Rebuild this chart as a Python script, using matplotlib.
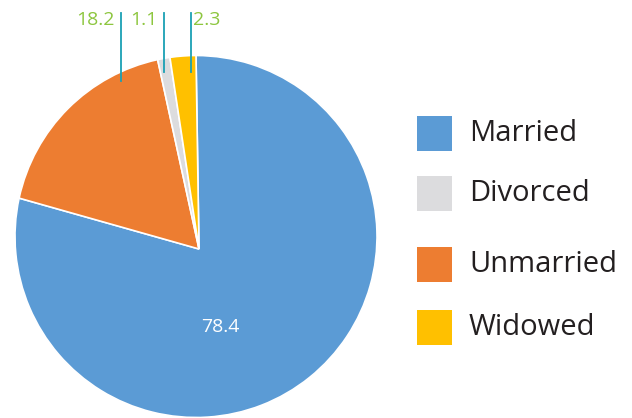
import numpy as np
import matplotlib
matplotlib.use('Agg')
import matplotlib.pyplot as plt
from matplotlib.patches import Rectangle, PathPatch
from matplotlib.path import Path

plt.rcParams['font.family'] = ['Open Sans', 'DejaVu Sans']

# data
CATEGORIES = ['Married', 'Unmarried', 'Divorced', 'Widowed']
VALUES = [78.4, 18.2, 1.1, 2.3]
COLORS = ['#5b9bd5', '#ed7d31', '#dcdcde', '#ffc000']
LEGEND_ORDER = ['Married', 'Divorced', 'Unmarried', 'Widowed']

W, H = 632, 418
fig = plt.figure(figsize=(W / 100, H / 100), dpi=100)

# pie axes placed in pixel terms: centre (196, 236.5), radius 181
cx, cy, r = 196, 236.5, 181
ax = fig.add_axes([(cx - r) / W, (H - cy - r) / H, 2 * r / W, 2 * r / H])
wedges, _ = ax.pie(VALUES, colors=COLORS, startangle=90, counterclock=False,
                   radius=1, wedgeprops=dict(edgecolor='white', linewidth=1.2))
ax.set_xlim(-1, 1)
ax.set_ylim(-1, 1)
ax.set_aspect('equal')
ax.axis('off')

# the original's wedges meet a little below and right of the circle centre,
# so rebuild each wedge outline with its arc from pie() and a shifted apex
apex = np.array([(199 - cx) / r, (cy - 249) / r])
for w in wedges:
    arc = Path.arc(w.theta1, w.theta2)
    verts = np.vstack([apex, arc.vertices * w.r + np.asarray(w.center), apex])
    codes = [Path.MOVETO, Path.LINETO] + list(arc.codes[1:]) + [Path.CLOSEPOLY]
    ax.add_patch(PathPatch(Path(verts, codes), facecolor=w.get_facecolor(),
                           edgecolor='white', lw=1.2, joinstyle='miter'))
    w.set_visible(False)

# callout layout: (line x, line bottom y, text side)
LABEL_GREEN = '#8dc63f'
LINE_TEAL = '#1aa0b4'
line_top = 1.235
callouts = {
    'Unmarried': (-0.414, 0.86, 'left'),
    'Divorced': (-0.177, 0.91, 'left'),
    'Widowed': (-0.028, 0.91, 'right'),
}
for name, (lx, ly, side) in callouts.items():
    v = VALUES[CATEGORIES.index(name)]
    ax.plot([lx, lx], [ly, line_top], color=LINE_TEAL, lw=1.3, clip_on=False)
    if side == 'left':
        ax.text(lx - 0.035, 1.198, f'{v}', ha='right', va='center',
                color=LABEL_GREEN, fontsize=14, clip_on=False)
    else:
        ax.text(lx + 0.012, 1.198, f'{v}', ha='left', va='center',
                color=LABEL_GREEN, fontsize=14, clip_on=False)

ax.text(0.133, -0.50, f'{VALUES[0]}', ha='center', va='center',
        color='white', fontsize=14)

# legend, drawn by hand to follow the uneven spacing
legend_tops = [116, 176, 247, 310]
for name, top in zip(LEGEND_ORDER, legend_tops):
    col = COLORS[CATEGORIES.index(name)]
    fig.add_artist(Rectangle((417 / W, (H - top - 35) / H), 35 / W, 35 / H,
                             transform=fig.transFigure, color=col, lw=0))
    fig.text(469 / W, (H - top - 17.5) / H, name, ha='left', va='center',
             fontsize=21, color='#231f20')

fig.savefig('out.png', dpi=100)
